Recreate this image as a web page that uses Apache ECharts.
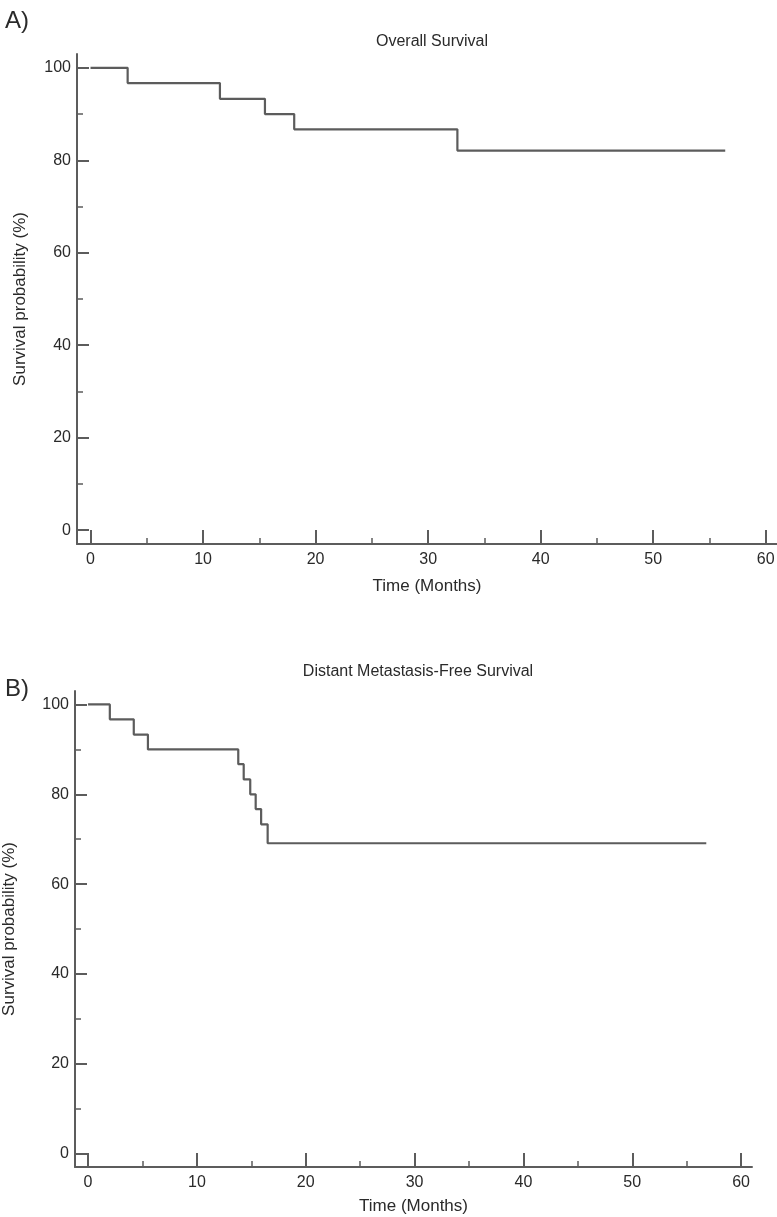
<!DOCTYPE html>
<html>
<head>
<meta charset="utf-8">
<script src="https://cdn.jsdelivr.net/npm/echarts@6/dist/echarts.min.js"></script>
<style>
    html, body { margin: 0; padding: 0; background: #fff; }
    #chart { width: 777px; height: 1217px; }
</style>
</head>
<body>
<div id="chart"></div>
<script>
    // Overall survival (A)
    const osTime = [0, 3.3, 11.5, 15.5, 18.1, 32.6, 56.4];
    const osSurv = [100, 96.7, 93.3, 90, 86.7, 82.1, 82.1];
    // Distant metastasis-free survival (B)
    const dmfsTime = [0, 2.0, 4.2, 5.5, 13.8, 14.3, 14.9, 15.4, 15.9, 16.5, 56.8];
    const dmfsSurv = [100, 96.7, 93.3, 90, 86.7, 83.3, 80, 76.7, 73.3, 69.1, 69.1];

    const xMajor = [0, 10, 20, 30, 40, 50, 60];
    const xMinor = [5, 15, 25, 35, 45, 55];
    const yMajor = [0, 20, 40, 60, 80, 100];
    const yMinor = [10, 30, 50, 70, 90];

    const axisColor = '#5c5c5c';
    const textColor = '#2a2a2a';
    const font = "'Liberation Sans', Arial, sans-serif";

    function pairs(xs, ys) {
        return xs.map((x, i) => [x, ys[i]]);
    }

    function xAxes(grid, nameGap) {
        return [
            {
                gridIndex: grid, type: 'value', min: -1.2, max: 61,
                name: 'Time (Months)', nameLocation: 'middle', nameGap: nameGap,
                nameTextStyle: { fontFamily: font, fontSize: 17, color: textColor },
                axisLine: { onZero: false, lineStyle: { color: axisColor, width: 2 } },
                axisTick: { inside: true, length: 14, customValues: xMajor, lineStyle: { color: axisColor, width: 2 } },
                axisLabel: { customValues: xMajor, margin: 8, fontFamily: font, fontSize: 16, color: textColor },
                splitLine: { show: false }
            },
            {
                gridIndex: grid, type: 'value', min: -1.2, max: 61, position: 'bottom',
                axisLine: { show: false, onZero: false },
                axisTick: { inside: true, length: 6, customValues: xMinor, lineStyle: { color: axisColor, width: 1.5 } },
                axisLabel: { show: false },
                splitLine: { show: false }
            }
        ];
    }

    function yAxes(grid, nameGap) {
        return [
            {
                gridIndex: grid, type: 'value', min: -3, max: 103,
                name: 'Survival probability (%)', nameLocation: 'middle', nameGap: nameGap,
                nameTextStyle: { fontFamily: font, fontSize: 17, color: textColor },
                axisLine: { show: true, onZero: false, lineStyle: { color: axisColor, width: 2 } },
                axisTick: { show: true, inside: true, length: 12, customValues: yMajor, lineStyle: { color: axisColor, width: 2 } },
                axisLabel: { customValues: yMajor, margin: 6, fontFamily: font, fontSize: 16, color: textColor },
                splitLine: { show: false }
            },
            {
                gridIndex: grid, type: 'value', min: -3, max: 103, position: 'left',
                axisLine: { show: false, onZero: false },
                axisTick: { show: true, inside: true, length: 6, customValues: yMinor, lineStyle: { color: axisColor, width: 1.5 } },
                axisLabel: { show: false },
                splitLine: { show: false }
            }
        ];
    }

    const chart = echarts.init(document.getElementById('chart'));
    const option = {
        animation: false,
        backgroundColor: '#fff',
        title: [
            { text: 'A)', left: 0, top: 4, textStyle: { fontFamily: font, fontSize: 24, fontWeight: 'normal', color: textColor } },
            { text: 'Overall Survival', left: 427, top: 29, textAlign: 'center', textStyle: { fontFamily: font, fontSize: 16, fontWeight: 'normal', color: textColor } },
            { text: 'B)', left: 0, top: 672, textStyle: { fontFamily: font, fontSize: 24, fontWeight: 'normal', color: textColor } },
            { text: 'Distant Metastasis-Free Survival', left: 413, top: 659, textAlign: 'center', textStyle: { fontFamily: font, fontSize: 16, fontWeight: 'normal', color: textColor } }
        ],
        grid: [
            { left: 77, right: 0, top: 54, height: 490, outerBoundsMode: 'none' },
            { left: 75, right: 25, top: 691, height: 476, outerBoundsMode: 'none' }
        ],
        xAxis: xAxes(0, 34).concat(xAxes(1, 31)),
        yAxis: yAxes(0, 48).concat(yAxes(1, 57)),
        series: [
            {
                name: 'Overall Survival', type: 'line', step: 'end',
                xAxisIndex: 0, yAxisIndex: 0, showSymbol: false,
                lineStyle: { color: axisColor, width: 2.2 },
                data: pairs(osTime, osSurv)
            },
            {
                name: 'Distant Metastasis-Free Survival', type: 'line', step: 'end',
                xAxisIndex: 2, yAxisIndex: 2, showSymbol: false,
                lineStyle: { color: axisColor, width: 2.2 },
                data: pairs(dmfsTime, dmfsSurv)
            }
        ]
    };
    chart.setOption(option);
</script>
</body>
</html>
